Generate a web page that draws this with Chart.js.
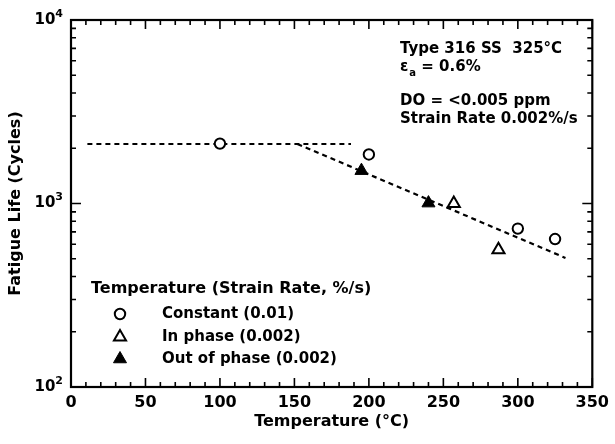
<!DOCTYPE html>
<html><head><meta charset="utf-8">
<script src="https://cdn.jsdelivr.net/npm/chart.js@4"></script>
<style>html,body{margin:0;padding:0;background:#fff}canvas{display:block}</style>
</head><body>
<canvas id="c" width="615" height="444" style="width:615px;height:444px"></canvas>
<script>
// ---- data ----
const constantT = [100, 200, 300, 325];
const constantN = [2120, 1850, 730, 640];
const inPhaseT = [257, 287];
const inPhaseN = [1000, 560];
const outPhaseT = [195, 240];
const outPhaseN = [1510, 1005];
const plateauT = [11, 188];
const plateauN = [2110, 2110];
const slopeT = [152, 332];
const slopeN = [2110, 505];
const xTicks = [0, 50, 100, 150, 200, 250, 300, 350];
const yTicks = [100, 1000, 10000];
const yTickBase = '10';
const yTickExponents = ['2', '3', '4'];
const legendTitle = 'Temperature (Strain Rate, %/s)';
const legendLabels = ['Constant (0.01)', 'In phase (0.002)', 'Out of phase (0.002)'];
const noteLine1 = 'Type 316 SS  325°C';
const noteLine2a = 'ε', noteLine2sub = 'a', noteLine2b = ' = 0.6%';
const noteLine3 = 'DO = <0.005 ppm';
const noteLine4 = 'Strain Rate 0.002%/s';

const FONT = 'DejaVu Sans';
const pts = (xs, ys) => xs.map((x, i) => ({x: x, y: ys[i]}));

const markerStyles = [
  {pointStyle: 'circle', radius: 5.2, fill: '#fff', borderWidth: 2},
  {pointStyle: 'triangle', radius: 7, fill: '#fff', borderWidth: 2},
  {pointStyle: 'triangle', radius: 7.5, fill: '#000', borderWidth: 1}
];

function drawMarker(ctx, st, x, y) {
  ctx.save();
  ctx.fillStyle = st.fill; ctx.strokeStyle = '#000'; ctx.lineWidth = st.borderWidth;
  ctx.beginPath();
  if (st.pointStyle === 'circle') {
    ctx.arc(x, y, st.radius, 0, Math.PI * 2);
  } else {
    const r = st.radius;
    ctx.moveTo(x, y - r);
    ctx.lineTo(x + r * Math.sin(Math.PI / 3), y + r / 2);
    ctx.lineTo(x - r * Math.sin(Math.PI / 3), y + r / 2);
    ctx.closePath();
  }
  ctx.fill(); ctx.stroke();
  ctx.restore();
}

const frameTicks = {
  id: 'frameTicks',
  beforeDatasetsDraw(chart) {
    const ctx = chart.ctx, a = chart.chartArea;
    const xs = chart.scales.x, ys = chart.scales.y;
    ctx.save();
    ctx.strokeStyle = '#000';
    ctx.lineWidth = 1.6;
    ctx.beginPath();
    for (let v = 0; v <= 350; v += 10) {
      const px = xs.getPixelForValue(v);
      const len = (v % 50 === 0) ? 9 : 5;
      ctx.moveTo(px, a.bottom); ctx.lineTo(px, a.bottom - len);
      ctx.moveTo(px, a.top); ctx.lineTo(px, a.top + len);
    }
    for (let d = 100; d < 10000; d *= 10) {
      for (let m = 1; m <= 9; m++) {
        const py = ys.getPixelForValue(m * d);
        const len = (m === 1) ? 10 : 5;
        ctx.moveTo(a.left, py); ctx.lineTo(a.left + len, py);
        ctx.moveTo(a.right, py); ctx.lineTo(a.right - len, py);
      }
    }
    ctx.stroke();
    ctx.lineWidth = 2.2;
    ctx.strokeRect(a.left, a.top, a.right - a.left, a.bottom - a.top);
    ctx.restore();
  },
  afterDraw(chart) {
    const ctx = chart.ctx, a = chart.chartArea, ys = chart.scales.y;
    ctx.save();
    ctx.fillStyle = '#000';
    // y tick labels: 10 with superscript exponent
    ctx.textBaseline = 'middle';
    yTicks.forEach((v, i) => {
      const py = ys.getPixelForValue(v);
      ctx.font = 'bold 11px "' + FONT + '"';
      ctx.textAlign = 'right';
      const ew = ctx.measureText(yTickExponents[i]).width;
      const right = a.left - 8;
      ctx.fillText(yTickExponents[i], right, py - 6);
      ctx.font = 'bold 15px "' + FONT + '"';
      ctx.fillText(yTickBase, right - ew, py);
    });
    ctx.textAlign = 'left';
    // annotation
    ctx.font = 'bold 15px "' + FONT + '"';
    ctx.fillText(noteLine1, 400, 49);
    ctx.fillText(noteLine2a, 400, 67);
    let w = ctx.measureText(noteLine2a).width;
    ctx.font = 'bold 10px "' + FONT + '"';
    ctx.fillText(noteLine2sub, 400 + w + 1, 73);
    const w2 = ctx.measureText(noteLine2sub).width;
    ctx.font = 'bold 15px "' + FONT + '"';
    ctx.fillText(noteLine2b, 400 + w + w2 + 1, 67);
    ctx.fillText(noteLine3, 400, 101);
    ctx.fillText(noteLine4, 400, 119);
    // legend
    ctx.font = 'bold 16px "' + FONT + '"';
    ctx.fillText(legendTitle, 91, 289);
    ctx.font = 'bold 15px "' + FONT + '"';
    const rowsY = [314, 337, 359];
    legendLabels.forEach((lab, i) => {
      drawMarker(ctx, markerStyles[i], 120, rowsY[i]);
      ctx.fillStyle = '#000';
      ctx.fillText(lab, 162, rowsY[i]);
    });
    ctx.restore();
  }
};

const lineDs = (xs, ys) => ({
  data: pts(xs, ys), showLine: true, borderColor: '#000', borderWidth: 2.2,
  borderDash: [5, 4], pointRadius: 0, fill: false, order: 5
});
const markDs = (xs, ys, st) => ({
  data: pts(xs, ys), showLine: false, pointStyle: st.pointStyle, pointRadius: st.radius,
  pointBackgroundColor: st.fill, pointBorderColor: '#000', pointBorderWidth: st.borderWidth, order: 1
});

new Chart(document.getElementById('c'), {
  type: 'scatter',
  data: {
    datasets: [
      lineDs(plateauT, plateauN),
      lineDs(slopeT, slopeN),
      markDs(constantT, constantN, markerStyles[0]),
      markDs(inPhaseT, inPhaseN, markerStyles[1]),
      markDs(outPhaseT, outPhaseN, markerStyles[2])
    ]
  },
  options: {
    responsive: false, animation: false, devicePixelRatio: 1,
    layout: {padding: {top: 20, right: 20, left: 0, bottom: 0}},
    plugins: {legend: {display: false}, tooltip: {enabled: false}},
    scales: {
      x: {
        type: 'linear', min: 0, max: 350,
        afterBuildTicks: s => { s.ticks = xTicks.map(v => ({value: v})); },
        afterFit: s => { s.height = 57; },
        grid: {display: false, drawTicks: false}, border: {display: false},
        ticks: {color: '#000', padding: 6, maxRotation: 0, font: {family: FONT, size: 16, weight: 'bold'}},
        title: {display: true, text: 'Temperature (°C)', color: '#000', padding: {top: 0, bottom: 13},
                font: {family: FONT, size: 16, weight: 'bold'}}
      },
      y: {
        type: 'logarithmic', min: 100, max: 10000,
        afterBuildTicks: s => { s.ticks = yTicks.map(v => ({value: v})); },
        afterFit: s => { s.width = 71; },
        grid: {display: false, drawTicks: false}, border: {display: false},
        ticks: {display: false},
        title: {display: true, text: 'Fatigue Life (Cycles)', color: '#000', padding: {top: 6, bottom: 0},
                font: {family: FONT, size: 16, weight: 'bold'}}
      }
    }
  },
  plugins: [frameTicks]
});
</script>
</body></html>
